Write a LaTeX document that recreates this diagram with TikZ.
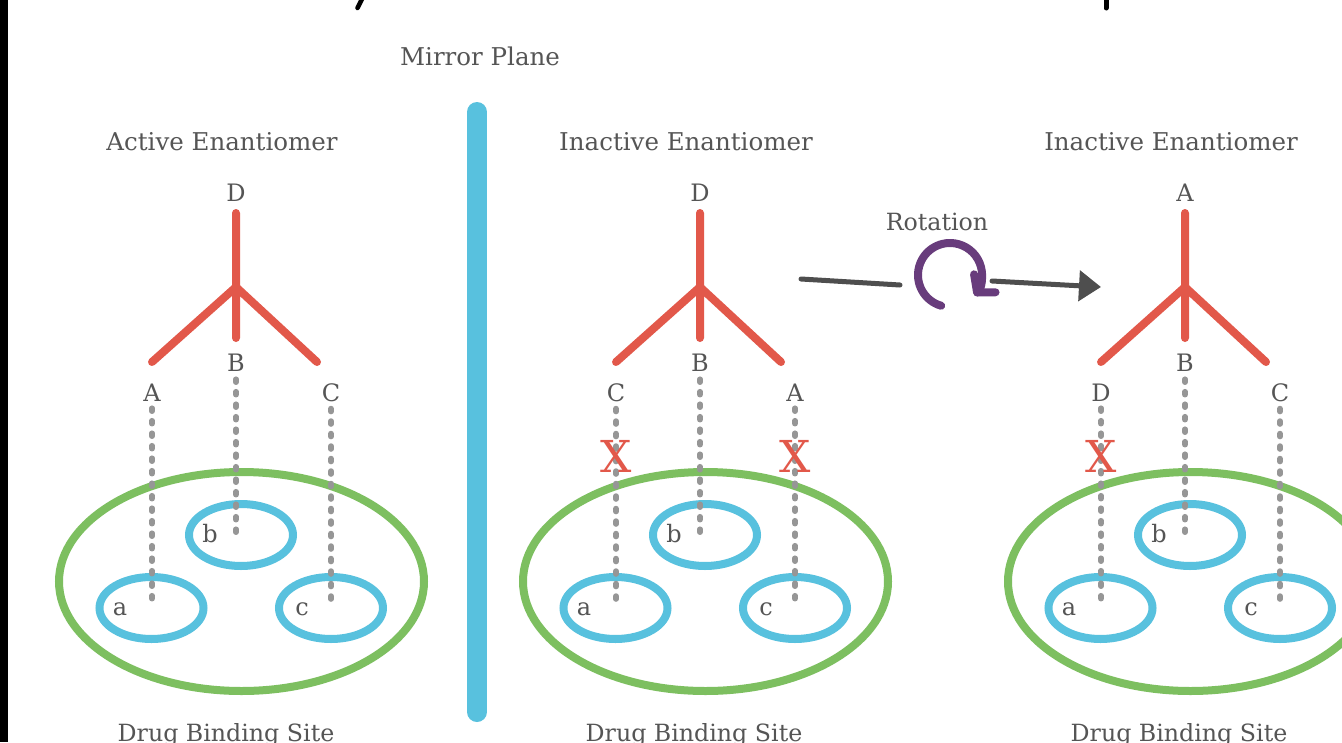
\documentclass[tikz,border=0pt]{standalone}
\usepackage{fontspec}
\setmainfont{DejaVu Serif}
\usetikzlibrary{arrows.meta,shapes.geometric}

\definecolor{bondred}{RGB}{226,88,74}
\definecolor{sitegreen}{RGB}{125,191,96}
\definecolor{pocketblue}{RGB}{88,193,222}
\definecolor{dashgray}{RGB}{150,150,150}
\definecolor{txtgray}{RGB}{85,85,85}
\definecolor{spinpurple}{RGB}{104,60,124}
\definecolor{arrowgray}{RGB}{78,78,78}

\tikzset{
  txt/.style={text=txtgray, font=\fontsize{24}{28}\selectfont, inner sep=2pt, anchor=base},
  headtxt/.style={txt, font=\fontsize{24.5}{28}\selectfont},
  smalltxt/.style={txt, font=\fontsize{23.7}{28}\selectfont},
  bond/.style={draw=bondred, line width=8pt, line cap=round, line join=round},
  link/.style={draw=dashgray, line width=5.5pt, line cap=round, dash pattern=on 3pt off 9.5pt},
  pocket/.style={ellipse, draw=pocketblue, line width=8pt, minimum width=104pt, minimum height=62pt, inner sep=0pt},
  site/.style={ellipse, draw=sitegreen, line width=8pt, minimum width=365pt, minimum height=219pt, inner sep=0pt},
  nomatch/.style={text=bondred, font=\fontsize{44}{48}\selectfont, inner sep=0pt, anchor=base},
  mirror/.style={draw=pocketblue, line width=20pt, line cap=round},
  flow/.style={draw=arrowgray, line width=5pt, line cap=round},
  spin/.style={draw=spinpurple, line width=8pt, line cap=round},
}

% One molecule above its binding site: #1 shift, #2 prefix, #3 title,
% #4 top group, #5 left group, #6 right group
\newcommand\bindpanel[6]{%
  \begin{scope}[xshift=#1pt, name prefix=#2-]
    \node[headtxt] (title) at (222,150) {#3};
    \node[txt] (top) at (236,201) {#4};
    \coordinate (stem) at (236,213);
    \coordinate (hub) at (236,287);
    \coordinate (armL) at (152,362);
    \coordinate (armR) at (317,362);
    \coordinate (armM) at (236,338);
    \draw[bond] (stem) -- (hub) (hub) -- (armL) (hub) -- (armR) (hub) -- (armM);
    \node[txt] (mid) at (236,371) {B};
    \node[txt] (left) at (152,401) {#5};
    \node[txt] (right) at (331,401) {#6};
    \node[site] (site) at (241.5,581.5) {};
    \node[pocket] (pb) at (241,535) {};
    \node[pocket] (pa) at (151.5,608) {};
    \node[pocket] (pc) at (331,608) {};
    \node[txt] (la) at (120,615) {a};
    \node[txt] (lb) at (210,542) {b};
    \node[txt] (lc) at (302,615) {c};
    \coordinate (aend) at (152,606);
    \coordinate (bend) at (236,541);
    \coordinate (cend) at (331,606);
    \draw[link, shorten <=5pt] (left.south) -- (aend);
    \draw[link, shorten <=6pt] (mid.south) -- (bend);
    \draw[link, shorten <=5pt] (right.south) -- (cend);
  \end{scope}}

\begin{document}
\begin{tikzpicture}[x=1pt, y=-1pt]
  \useasboundingbox (0,0) rectangle (1342,742);
  \fill[white] (0,0) rectangle (1342,742);

  % frame edge and the lower ends of the heading letters
  \fill[black] (0,0) rectangle (8,742);
  \draw[black, line width=4.5pt, line cap=round] (363,-3) -- (357.5,8);
  \draw[black, line width=5pt, line cap=round] (1106,-3) -- (1106,8);

  \bindpanel{0}{p1}{Active Enantiomer}{D}{A}{C}
  \bindpanel{464}{p2}{Inactive Enantiomer}{D}{C}{A}
  \bindpanel{949}{p3}{Inactive Enantiomer}{A}{D}{C}

  % failed contacts
  \node[nomatch] (x1) at (616,472) {X};
  \node[nomatch] (x2) at (795,472) {X};
  \node[nomatch] (x3) at (1101,472) {X};

  % mirror plane
  \node[headtxt] (mlabel) at (480,65) {Mirror Plane};
  \coordinate (mtop) at (477,112);
  \coordinate (mbot) at (477,712);
  \draw[mirror] (mtop) -- (mbot);

  % rotation
  \node[smalltxt] (rot) at (937,230) {Rotation};
  \coordinate (rc) at (950,275);
  \coordinate (fin0) at (801,279);
  \coordinate (fin1) at (900,285);
  \coordinate (fout0) at (992,281);
  \coordinate (fout1) at (1101,287);
  \draw[flow] (fin0) -- (fin1);
  \draw[flow, -{Triangle[length=22pt, width=30pt]}] (fout0) -- (fout1);
  \draw[spin, -{Straight Barb[length=12pt, width=28pt, round]}]
    ([shift={(254:32pt)}]rc) arc[start angle=254, end angle=-40, radius=32pt];

  % captions
  \node[smalltxt] (cap1) at (226,741) {Drug Binding Site};
  \node[smalltxt] (cap2) at (694,741) {Drug Binding Site};
  \node[smalltxt] (cap3) at (1179,741) {Drug Binding Site};
\end{tikzpicture}
\end{document}
